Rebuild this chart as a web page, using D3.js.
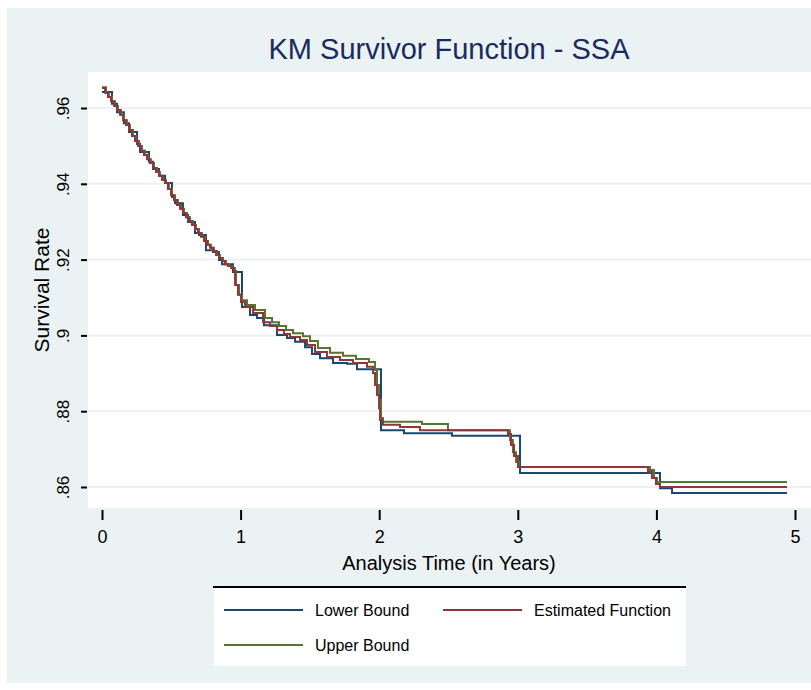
<!DOCTYPE html>
<html>
<head>
<meta charset="utf-8">
<script src="https://cdn.jsdelivr.net/npm/d3@7"></script>
<style>
  body { margin: 0; background: #ffffff; }
  text { font-family: "Liberation Sans", Arial, sans-serif; }
</style>
</head>
<body>
<div class="vis-holder"></div>
<script>
// KM estimate and confidence bounds (time in years, survival rate)
var estTime = [0, 0.022, 0.043, 0.065, 0.087, 0.108, 0.130, 0.152, 0.173, 0.195, 0.216, 0.238, 0.260, 0.281, 0.303, 0.325, 0.346, 0.368, 0.390, 0.411, 0.433, 0.455, 0.476, 0.498, 0.519, 0.541, 0.563, 0.584, 0.606, 0.628, 0.649, 0.671, 0.693, 0.714, 0.736, 0.758, 0.779, 0.801, 0.823, 0.844, 0.866, 0.887, 0.909, 0.931, 0.952,
  0.960, 0.981, 1.003, 1.032, 1.090, 1.162, 1.212, 1.263, 1.313, 1.356, 1.429, 1.479, 1.537, 1.623, 1.717, 1.811, 1.912, 1.955, 1.970, 1.984, 1.999, 2.006, 2.027, 2.150, 2.294, 2.929, 2.951, 2.973, 3.001, 3.939, 3.968, 3.997, 4.026];
var estSurv = [0.9653, 0.9640, 0.9629, 0.9618, 0.9605, 0.9595, 0.9582, 0.9568, 0.9555, 0.9542, 0.9526, 0.9513, 0.9500, 0.9487, 0.9476, 0.9465, 0.9455, 0.9442, 0.9431, 0.9421, 0.9410, 0.9402, 0.9386, 0.9370, 0.9357, 0.9344, 0.9334, 0.9323, 0.9312, 0.9302, 0.9291, 0.9281, 0.9270, 0.9260, 0.9249, 0.9239, 0.9231, 0.9223, 0.9212, 0.9204, 0.9196, 0.9188, 0.9183, 0.9178, 0.9170,
  0.9133, 0.9107, 0.9088, 0.9075, 0.9059, 0.9035, 0.9025, 0.9014, 0.9004, 0.8996, 0.8988, 0.8975, 0.8956, 0.8943, 0.8935, 0.8927, 0.8917, 0.8901, 0.8869, 0.8843, 0.8808, 0.8777, 0.8764, 0.8758, 0.8750, 0.8740, 0.8711, 0.8682, 0.8653, 0.8640, 0.8624, 0.8608, 0.8600];

var lowTime = [0, 0.072, 0.108, 0.158, 0.195, 0.253, 0.274, 0.339, 0.368, 0.411, 0.455, 0.505, 0.527, 0.584, 0.621, 0.671, 0.700, 0.750, 0.801, 0.844, 0.866, 0.945, 1.010, 1.068, 1.118, 1.169, 1.263, 1.335, 1.393, 1.465, 1.515, 1.573, 1.667, 1.768, 1.840, 2.013, 2.179, 2.525, 3.016, 4.026, 4.113];
var lowSurv = [0.9642, 0.9611, 0.9589, 0.9560, 0.9537, 0.9505, 0.9484, 0.9458, 0.9439, 0.9421, 0.9402, 0.9365, 0.9349, 0.9318, 0.9299, 0.9270, 0.9265, 0.9225, 0.9220, 0.9199, 0.9188, 0.9167, 0.9075, 0.9054, 0.9046, 0.9027, 0.9001, 0.8993, 0.8983, 0.8969, 0.8951, 0.8940, 0.8927, 0.8925, 0.8911, 0.8750, 0.8742, 0.8735, 0.8637, 0.8597, 0.8584];

var upTime = [0, 0.029, 0.050, 0.072, 0.094, 0.115, 0.137, 0.159, 0.180, 0.202, 0.224, 0.245, 0.267, 0.288, 0.310, 0.332, 0.353, 0.375, 0.397, 0.418, 0.440, 0.462, 0.483, 0.505, 0.527, 0.548, 0.570, 0.592, 0.613, 0.635, 0.656, 0.678, 0.700, 0.721, 0.743, 0.765, 0.786, 0.808, 0.830, 0.851, 0.873, 0.895, 0.916, 0.938, 0.959,
  0.967, 0.989, 1.010, 1.046, 1.104, 1.176, 1.227, 1.277, 1.328, 1.378, 1.450, 1.501, 1.558, 1.645, 1.739, 1.833, 1.926, 1.970, 1.984, 1.999, 2.013, 2.027, 2.309, 2.496, 2.944, 2.965, 2.987, 3.009, 3.954, 3.983, 4.004];
var upSurv = [0.9655, 0.9640, 0.9629, 0.9618, 0.9605, 0.9595, 0.9582, 0.9568, 0.9555, 0.9542, 0.9526, 0.9513, 0.9500, 0.9487, 0.9476, 0.9465, 0.9455, 0.9442, 0.9431, 0.9421, 0.9410, 0.9402, 0.9386, 0.9370, 0.9357, 0.9344, 0.9334, 0.9323, 0.9312, 0.9302, 0.9291, 0.9281, 0.9270, 0.9260, 0.9249, 0.9239, 0.9231, 0.9223, 0.9212, 0.9204, 0.9196, 0.9188, 0.9183, 0.9178, 0.9170,
  0.9133, 0.9107, 0.9093, 0.9080, 0.9067, 0.9046, 0.9035, 0.9025, 0.9014, 0.9006, 0.8998, 0.8985, 0.8967, 0.8954, 0.8946, 0.8938, 0.8930, 0.8909, 0.8869, 0.8830, 0.8782, 0.8772, 0.8766, 0.8750, 0.8724, 0.8692, 0.8666, 0.8653, 0.8645, 0.8624, 0.8613];

var endTime = 4.942;

var yTicks = [0.96, 0.94, 0.92, 0.90, 0.88, 0.86];
var yTickLabels = [".96", ".94", ".92", ".9", ".88", ".86"];
var xTicks = [0, 1, 2, 3, 4, 5];

var seriesNames = ["Lower Bound", "Estimated Function", "Upper Bound"];
var seriesColors = ["#1a476f", "#90353b", "#55752f"];

var width = 811;
var height = 690;

var svg = d3.select(".vis-holder")
      .append("svg")
      .attr("width", width)
      .attr("height", height);

// graph region background
svg.append("rect")
    .attr("x", 7).attr("y", 8)
    .attr("width", width - 7).attr("height", 675)
    .attr("fill", "#eaf2f3");

// plot region
var plot = {left: 88, top: 72, right: 811, bottom: 508};
svg.append("rect")
    .attr("x", plot.left).attr("y", plot.top)
    .attr("width", plot.right - plot.left)
    .attr("height", plot.bottom - plot.top)
    .attr("fill", "#ffffff");

var xScale = d3.scaleLinear().domain([0, 5]).range([102, 795]);
var yScale = d3.scaleLinear().domain([0.86, 0.96]).range([487, 108]);

// gridlines
svg.append("g")
    .selectAll("line")
    .data(yTicks)
    .enter().append("line")
    .attr("x1", plot.left).attr("x2", plot.right)
    .attr("y1", function(d){ return yScale(d); })
    .attr("y2", function(d){ return yScale(d); })
    .attr("stroke", "#eaf2f3")
    .attr("stroke-width", 2);

// y axis
var yAxis = d3.axisLeft(yScale)
    .tickValues(yTicks)
    .tickSize(6)
    .tickPadding(8)
    .tickFormat(function(d, i){ return yTickLabels[i]; });
var gy = svg.append("g")
    .attr("class", "y axis")
    .attr("transform", "translate(" + (plot.left - 1) + ",0)")
    .call(yAxis);
gy.select(".domain").remove();
gy.selectAll(".tick line").attr("stroke", "#000").attr("stroke-width", 2);
gy.selectAll(".tick text")
    .attr("transform", "rotate(-90)")
    .attr("x", 0)
    .attr("y", -18)
    .attr("dy", 0)
    .style("text-anchor", "middle")
    .style("font-size", "17px")
    .style("fill", "#000");

// x axis
var xAxis = d3.axisBottom(xScale)
    .tickValues(xTicks)
    .tickSize(10)
    .tickPadding(10)
    .tickFormat(d3.format("d"));
var gx = svg.append("g")
    .attr("class", "x axis")
    .attr("transform", "translate(0," + (plot.bottom + 2) + ")")
    .call(xAxis);
gx.select(".domain").remove();
gx.selectAll(".tick line").attr("stroke", "#000").attr("stroke-width", 2);
gx.selectAll(".tick text")
    .style("font-size", "18px")
    .style("fill", "#000");

// step curves
var line = d3.line()
    .x(function(d){ return xScale(d[0]); })
    .y(function(d){ return yScale(d[1]); })
    .curve(d3.curveStepAfter);

function stepPoints(times, surv){
  var pts = times.map(function(t, i){ return [t, surv[i]]; });
  pts.push([endTime, surv[surv.length - 1]]);
  return pts;
}

var curves = [
  {pts: stepPoints(lowTime, lowSurv), color: seriesColors[0]},
  {pts: stepPoints(upTime, upSurv), color: seriesColors[2]},
  {pts: stepPoints(estTime, estSurv), color: seriesColors[1]}
];

svg.append("g")
    .selectAll("path")
    .data(curves)
    .enter().append("path")
    .attr("d", function(d){ return line(d.pts); })
    .attr("fill", "none")
    .attr("stroke", function(d){ return d.color; })
    .attr("stroke-width", 2);

// title
svg.append("text")
    .attr("x", 449)
    .attr("y", 59)
    .style("text-anchor", "middle")
    .style("font-size", "29px")
    .style("fill", "#1a2b5c")
    .text("KM Survivor Function - SSA");

// axis titles
svg.append("text")
    .attr("x", 449)
    .attr("y", 570)
    .style("text-anchor", "middle")
    .style("font-size", "20px")
    .style("fill", "#000")
    .text("Analysis Time (in Years)");

svg.append("text")
    .attr("transform", "translate(49,290) rotate(-90)")
    .style("text-anchor", "middle")
    .style("font-size", "21px")
    .style("fill", "#000")
    .text("Survival Rate");

// legend
var legend = svg.append("g");
legend.append("rect")
    .attr("x", 214).attr("y", 587)
    .attr("width", 472).attr("height", 79)
    .attr("fill", "#ffffff");
legend.append("line")
    .attr("x1", 213).attr("x2", 686)
    .attr("y1", 587).attr("y2", 587)
    .attr("stroke", "#000")
    .attr("stroke-width", 2);

var legendItems = [
  {name: seriesNames[0], color: seriesColors[0], x: 224, y: 610},
  {name: seriesNames[1], color: seriesColors[1], x: 443, y: 610},
  {name: seriesNames[2], color: seriesColors[2], x: 224, y: 645}
];
var items = legend.selectAll("g.item")
    .data(legendItems)
    .enter().append("g")
    .attr("class", "item");
items.append("line")
    .attr("x1", function(d){ return d.x; })
    .attr("x2", function(d){ return d.x + 79; })
    .attr("y1", function(d){ return d.y; })
    .attr("y2", function(d){ return d.y; })
    .attr("stroke", function(d){ return d.color; })
    .attr("stroke-width", 2);
items.append("text")
    .attr("x", function(d){ return d.x + 91; })
    .attr("y", function(d){ return d.y + 6; })
    .style("font-size", "16px")
    .style("fill", "#000")
    .text(function(d){ return d.name; });
</script>
</body>
</html>
